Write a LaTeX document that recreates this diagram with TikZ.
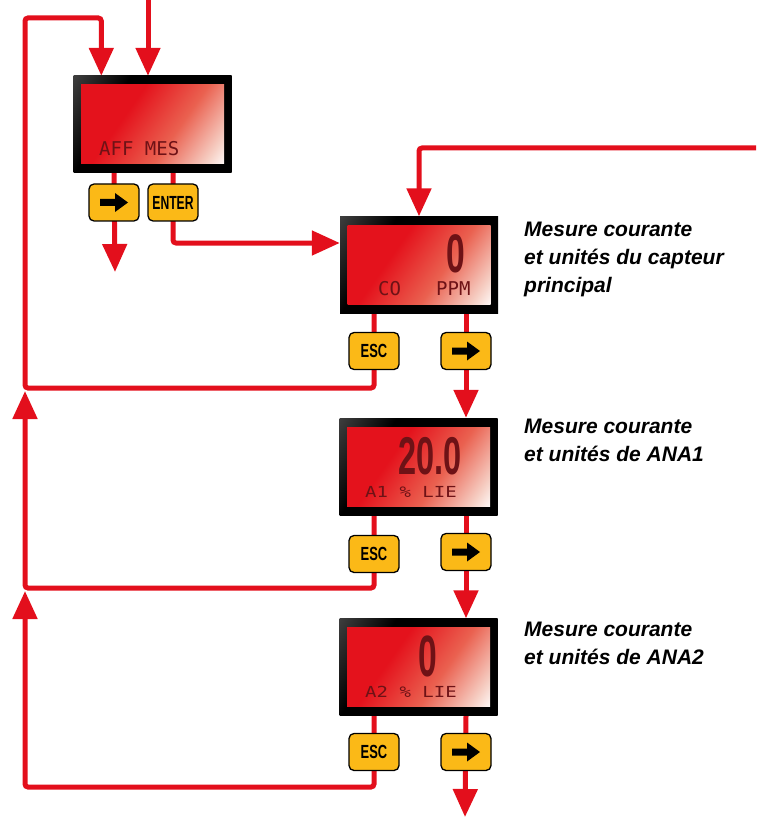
\documentclass[tikz,border=0pt]{standalone}
\usepackage{fontspec}
\setmainfont{Liberation Sans}
\newfontfamily\lcdfont{DejaVu Sans Mono}
\usetikzlibrary{arrows.meta,backgrounds}

\definecolor{flowred}{HTML}{E30F1C}
\definecolor{lcdred}{HTML}{E4121C}
\definecolor{lcdmid}{HTML}{EA6150}
\definecolor{lcdpale}{HTML}{F6CFC4}
\definecolor{lcdtext}{HTML}{6E1216}
\definecolor{keyyellow}{HTML}{FBB917}

\pgfdeclarehorizontalshading{lcdglow}{100bp}{color(0bp)=(lcdred); color(38bp)=(lcdred); color(60bp)=(lcdmid); color(78bp)=(lcdpale); color(86bp)=(white); color(100bp)=(white)}
\pgfdeclarehorizontalshading{framedark}{100bp}{color(0bp)=(black!55); color(34bp)=(black); color(100bp)=(black)}

\tikzset{
  lcd/.style={rectangle, shade, shading=framedark, shading angle=-30, minimum width=158pt, minimum height=97pt, inner sep=0pt},
  screen/.style={rectangle, shade, shading=lcdglow, shading angle=-35, minimum width=143pt, minimum height=79pt, inner sep=0pt},
  lcdtxt/.style={inner sep=0pt, text=lcdtext, font=\lcdfont\fontsize{19}{19}\selectfont},
  digits/.style={inner sep=0pt, text=lcdtext, font=\fontsize{56}{56}\selectfont\bfseries},
  key/.style={draw=black, line width=1.3pt, fill=keyyellow, rounded corners=5pt, minimum width=50pt, minimum height=37pt, inner sep=0pt, font=\fontsize{19}{19}\selectfont\bfseries},
  keyarrow/.pic={\fill[black] (-14,-3.5) -- (1,-3.5) -- (1,-9.5) -- (14,0) -- (1,9.5) -- (1,3.5) -- (-14,3.5) -- cycle;},
  flow/.style={draw=flowred, line width=5pt, rounded corners=3pt},
  tip/.style={-{Triangle[width=24pt,length=28pt]}},
  note/.style={anchor=north west, inner sep=0pt, align=left, font=\fontsize{21}{28}\selectfont\bfseries\itshape}
}

\begin{document}
\begin{tikzpicture}[x=1pt, y=-1pt]
  \useasboundingbox (0,0) rectangle (756,818);

  % displays
  \node[lcd] (d1) at (152.5,124.5) {};
  \node[screen] (s1) at (d1) {};
  \node[lcd] (d2) at (419,265) {};
  \node[screen] (s2) at (d2) {};
  \node[lcd] (d3) at (418.5,466.5) {};
  \node[screen] (s3) at (d3) {};
  \node[lcd] (d4) at (418.5,667) {};
  \node[screen] (s4) at (d4) {};

  % screen texts
  \node[lcdtxt, anchor=base west] (t1) at (99,156) {AFF MES};
  \node[lcdtxt, anchor=base west] (t2a) at (378,295) {CO};
  \node[lcdtxt, anchor=base west] (t2b) at (436,295) {PPM};
  \node[digits, anchor=base east] (v2) at (465,272) {\scalebox{0.6}[0.97]{0}};
  \node[digits, anchor=base east] (v3) at (462,474) {\scalebox{0.58}[0.95]{20.0}};
  \node[lcdtxt, anchor=base west] (t3) at (365,497) {\scalebox{1}[0.8]{A1 \% LIE}};
  \node[digits, anchor=base east] (v4) at (437,676) {\scalebox{0.6}[1.04]{0}};
  \node[lcdtxt, anchor=base west] (t4) at (365,697) {\scalebox{1}[0.8]{A2 \% LIE}};

  % keys
  \node[key] (k1) at (114,202.5) {};
  \pic at (k1) {keyarrow};
  \node[key] (k2) at (173,202.5) {\scalebox{0.64}[1]{ENTER}};
  \node[key] (e2) at (374,351) {\scalebox{0.68}[1]{ESC}};
  \node[key] (k3) at (466,351) {};
  \pic at (k3) {keyarrow};
  \node[key] (e3) at (374,554) {\scalebox{0.68}[1]{ESC}};
  \node[key] (k5) at (466,552) {};
  \pic at (k5) {keyarrow};
  \node[key] (e4) at (374,752) {\scalebox{0.68}[1]{ESC}};
  \node[key] (k6) at (466,752) {};
  \pic at (k6) {keyarrow};

  % free ends
  \coordinate (in1) at (148,0);
  \coordinate (c1) at (25,18);
  \coordinate (c2) at (25,388);
  \coordinate (c3) at (25,588);
  \coordinate (c4) at (25,787);
  \coordinate (u3) at (25,391);
  \coordinate (u4) at (25,591);
  \coordinate (o1) at (115,272);
  \coordinate (r2) at (756,148);
  \coordinate (o4) at (465,817);

  % connectors
  \begin{scope}[on background layer]
    \draw[flow, tip] (in1) -- (in1 |- d1.north);
    \draw[flow, tip] (d2.south -| e2) |- (c2) -- (c1) -| ([xshift=28pt]d1.north west);
    \draw[flow, tip] (d1.south -| k1) -- (o1);
    \draw[flow, tip] (d1.south -| k2) |- ([yshift=22pt]d2.west);
    \draw[flow, tip] (r2) -| (d2.north);
    \draw[flow, tip] (d2.south -| k3) -- (d3.north -| k3);
    \draw[flow, tip] (d3.south -| e3) |- (c3) -- (u3);
    \draw[flow, tip] (d3.south -| k5) -- (d4.north -| k5);
    \draw[flow, tip] (d4.south -| e4) |- (c4) -- (u4);
    \draw[flow, tip] (d4.south -| k6) -- (o4);
  \end{scope}

  % notes
  \node[note] (n2) at (524,222) {Mesure courante\\et unités du capteur\\principal};
  \node[note] (n3) at (524,419) {Mesure courante\\et unités de ANA1};
  \node[note] (n4) at (524,622) {Mesure courante\\et unités de ANA2};
\end{tikzpicture}
\end{document}
